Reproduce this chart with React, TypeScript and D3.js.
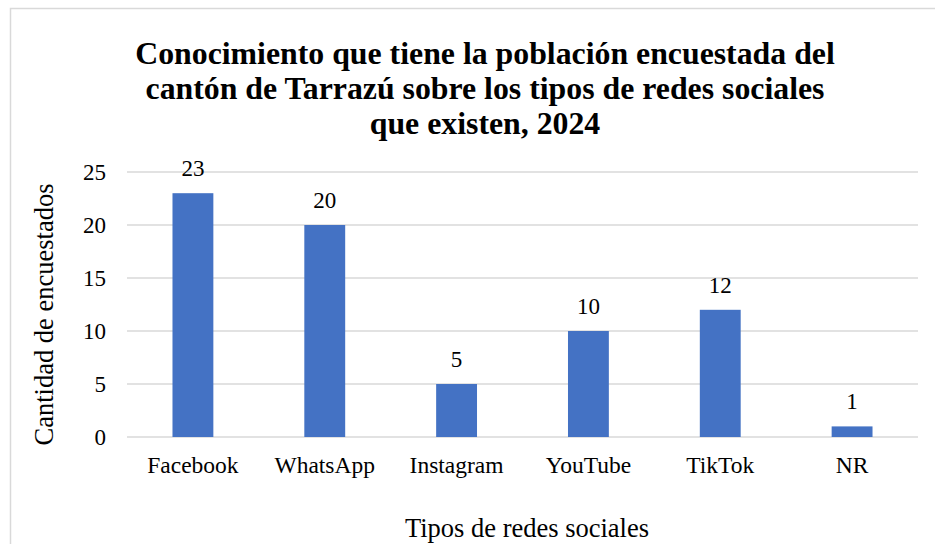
import React, { useEffect, useRef } from 'react';
import * as d3 from 'd3';

const categories = ['Facebook', 'WhatsApp', 'Instagram', 'YouTube', 'TikTok', 'NR'];
const values = [23, 20, 5, 10, 12, 1];
const yTicks = [0, 5, 10, 15, 20, 25];
const titleLines = [
  'Conocimiento que tiene la población encuestada del',
  'cantón de Tarrazú sobre los tipos de redes sociales',
  'que existen, 2024',
];

const W = 935;
const H = 544;
const FONT = '"Liberation Serif", "Times New Roman", serif';

const drawChart = (node: SVGSVGElement) => {
  const svg = d3.select(node);
  svg.selectAll('*').remove();

  const plot = { left: 127, right: 918, top: 172, bottom: 437 };

  // chart area border (cut off at the right and bottom)
  svg.append('rect')
    .attr('x', 10.5)
    .attr('y', 8.5)
    .attr('width', 1000)
    .attr('height', 600)
    .attr('fill', '#fff')
    .attr('stroke', '#d9d9d9')
    .attr('stroke-width', 1.5);

  const x = d3.scaleBand<string>()
    .domain(categories)
    .range([plot.left, plot.right])
    .paddingInner(0.69)
    .paddingOuter(0.345);

  const y = d3.scaleLinear()
    .domain([0, 25])
    .range([plot.bottom, plot.top]);

  // gridlines
  svg.append('g')
    .selectAll('line')
    .data(yTicks)
    .enter()
    .append('line')
    .attr('x1', plot.left)
    .attr('x2', plot.right)
    .attr('y1', d => y(d))
    .attr('y2', d => y(d))
    .attr('stroke', '#d9d9d9')
    .attr('stroke-width', 1.3);

  // y tick labels
  svg.append('g')
    .selectAll('text')
    .data(yTicks)
    .enter()
    .append('text')
    .attr('x', 106)
    .attr('y', d => y(d))
    .attr('dy', '0.35em')
    .attr('text-anchor', 'end')
    .attr('font-family', FONT)
    .attr('font-size', 23)
    .attr('fill', '#000')
    .text(d => d);

  // bars
  svg.append('g')
    .selectAll('rect')
    .data(values)
    .enter()
    .append('rect')
    .attr('x', (d, i) => x(categories[i]) as number)
    .attr('y', d => y(d))
    .attr('width', x.bandwidth())
    .attr('height', d => y(0) - y(d))
    .attr('fill', '#4472c4');

  // data labels
  svg.append('g')
    .selectAll('text')
    .data(values)
    .enter()
    .append('text')
    .attr('x', (d, i) => (x(categories[i]) as number) + x.bandwidth() / 2)
    .attr('y', d => y(d) - 17)
    .attr('text-anchor', 'middle')
    .attr('font-family', FONT)
    .attr('font-size', 23)
    .attr('fill', '#000')
    .text(d => d);

  // category labels
  svg.append('g')
    .selectAll('text')
    .data(categories)
    .enter()
    .append('text')
    .attr('x', d => (x(d) as number) + x.bandwidth() / 2)
    .attr('y', 473)
    .attr('text-anchor', 'middle')
    .attr('font-family', FONT)
    .attr('font-size', 23.5)
    .attr('fill', '#000')
    .text(d => d);

  // title
  svg.append('g')
    .selectAll('text')
    .data(titleLines)
    .enter()
    .append('text')
    .attr('x', 485)
    .attr('y', (d, i) => 64 + i * 35)
    .attr('text-anchor', 'middle')
    .attr('font-family', FONT)
    .attr('font-weight', 'bold')
    .attr('font-size', 31.8)
    .attr('fill', '#000')
    .text(d => d);

  // axis titles
  svg.append('text')
    .attr('transform', `translate(53, ${(plot.top + plot.bottom) / 2 + 10}) rotate(-90)`)
    .attr('text-anchor', 'middle')
    .attr('font-family', FONT)
    .attr('font-size', 26.5)
    .attr('fill', '#000')
    .text('Cantidad de encuestados');

  svg.append('text')
    .attr('x', 527)
    .attr('y', 537)
    .attr('text-anchor', 'middle')
    .attr('font-family', FONT)
    .attr('font-size', 26.5)
    .attr('fill', '#000')
    .text('Tipos de redes sociales');
};

const App = () => {
  const ref = useRef<SVGSVGElement>(null);

  useEffect(() => {
    if (ref.current) drawChart(ref.current);
  }, []);

  return (
    <svg
      ref={ref}
      width={W}
      height={H}
      style={{ position: 'absolute', left: 0, top: 0, background: '#fff' }}
    />
  );
};

export default App;
